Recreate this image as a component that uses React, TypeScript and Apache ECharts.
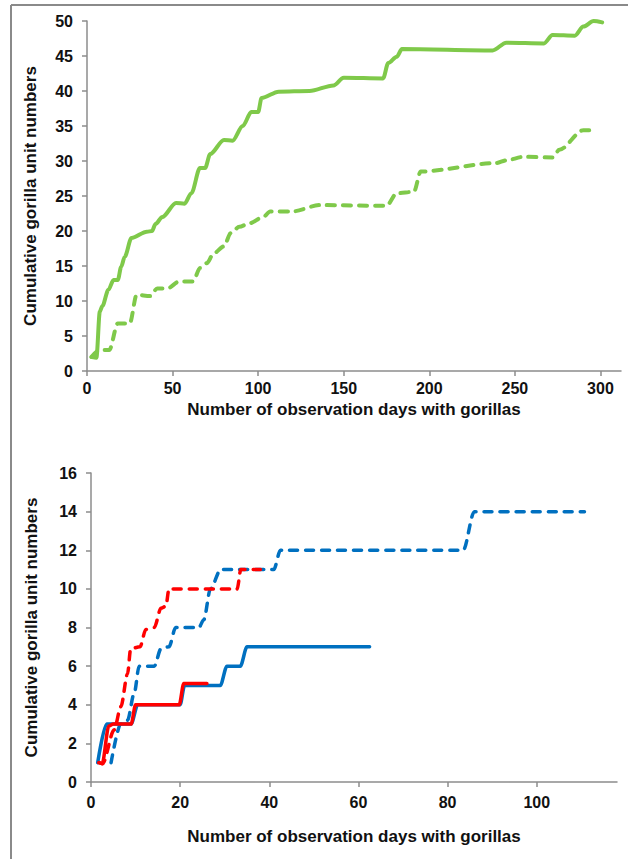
import React, { useEffect, useRef } from "react";
import * as echarts from "echarts";

// Top chart: cumulative gorilla unit numbers vs observation days
const topSolid: [number, number][] = [
  [3, 2], [5.5, 1.9], [7.5, 8.5], [9, 9.3], [12.5, 11.6], [15.5, 13], [18, 13], [20, 14.9], [22, 16.3],
  [26, 19], [35, 19.9], [38, 20], [40, 21], [44, 22], [52, 24], [57, 23.9], [61, 25.4], [66, 29], [69, 29],
  [72, 31], [80, 33], [85, 32.9], [91, 35], [96, 37], [100, 37], [102, 39], [112, 39.9], [130, 40],
  [144, 40.8], [150, 41.9], [173, 41.8], [176, 44], [181, 44.9], [184, 46], [237, 45.8], [245, 46.9],
  [267, 46.8], [272, 48], [285, 47.9], [290, 49.2], [296, 50], [301, 49.8],
];
const topDashed: [number, number][] = [
  [2.5, 2], [7.5, 3], [13, 3], [18, 6.8], [25, 6.8], [29, 10.9], [37, 10.7], [41, 11.8], [47, 11.8],
  [54, 12.8], [62, 12.8], [66, 14.7], [70, 15.4], [74, 16.8], [80, 17.8], [84, 19.7], [89, 20.6],
  [95, 21.1], [103, 22], [107, 22.8], [120, 22.8], [136, 23.7], [175, 23.6], [181, 25.4], [191, 25.6],
  [195, 28.5], [239, 29.7], [245, 30.1], [255, 30.6], [272, 30.5], [276, 31.6], [290, 34.4], [294, 34.4],
];
const topXTicks = [0, 50, 100, 150, 200, 250, 300];

// Bottom chart
const blueSolid: [number, number][] = [
  [1.5, 1], [3.5, 3], [9, 3], [10.5, 4], [20, 4], [21, 5], [29, 5], [30.5, 6], [33.5, 6], [35, 7], [62.5, 7],
];
const redSolid: [number, number][] = [
  [1.8, 1], [2.5, 0.95], [4, 2.9], [5, 3], [9, 3], [10, 4], [19.8, 4], [20.8, 5.1], [26, 5.1],
];
const blueDashed: [number, number][] = [
  [4.5, 1], [6.7, 3], [8.2, 3.2], [9.7, 4.6], [10.8, 6], [14.2, 6], [15.7, 6.9], [17.5, 7], [19, 8],
  [24.2, 8], [25.3, 8.4], [26.8, 10], [29.1, 11], [41, 11], [42.5, 12], [83.5, 12], [86, 14], [110.7, 14],
];
const redDashed: [number, number][] = [
  [1.8, 1], [2.6, 0.95], [5.2, 2.7], [6.7, 3.9], [8.2, 5.6], [8.9, 6.9], [11, 7], [12.3, 7.9], [14.2, 8],
  [15.7, 9], [16.8, 9.1], [17.5, 10], [32.8, 10], [33.6, 11], [38, 11],
];
const bottomXTicks = [0, 20, 40, 60, 80, 100];

const xName = "Number of observation days with gorillas";
const yName = "Cumulative gorilla unit numbers";

const GREEN = "#7fc94a";
const BLUE = "#0070c0";
const RED = "#ff0000";
const AXIS = "#8c8c8c";
const FONT = "Liberation Sans";

export default function App() {
  const ref = useRef<HTMLDivElement>(null);
  useEffect(() => {
    if (!ref.current) return;
    const chart = echarts.init(ref.current, undefined, { renderer: "svg" });
    const axisLine = { show: true, lineStyle: { color: AXIS, width: 1.5 } };
    const axisTick = { show: true, length: 5, inside: false, lineStyle: { color: AXIS, width: 1.5 } };
    const label = { color: "#111", fontFamily: FONT, fontWeight: "bold" as const, fontSize: 16 };
    const nameStyle = { color: "#111", fontFamily: FONT, fontWeight: "bold" as const, fontSize: 17 };
    const line = (data: [number, number][], color: string, dashed: boolean, width: number, xi: number) => ({
      type: "line",
      xAxisIndex: xi,
      yAxisIndex: xi,
      data,
      showSymbol: false,
      smooth: 0.3,
      smoothMonotone: "x",
      lineStyle: { color, width, type: dashed ? [8, 8] : "solid", cap: "round", join: "round" },
    });
    chart.setOption({
      animation: false,
      backgroundColor: "#fff",
      grid: [
        { left: 87, top: 21, width: 534, height: 350 },
        { left: 91, top: 473, width: 526, height: 309 },
      ],
      xAxis: [
        {
          gridIndex: 0, type: "value", min: 0, max: 312,
          axisLine, axisTick: { ...axisTick, customValues: topXTicks },
          axisLabel: { ...label, margin: 9, customValues: topXTicks },
          splitLine: { show: false },
          name: xName, nameLocation: "middle", nameGap: 30, nameTextStyle: nameStyle,
        },
        {
          gridIndex: 1, type: "value", min: 0, max: 118,
          axisLine, axisTick: { ...axisTick, customValues: bottomXTicks },
          axisLabel: { ...label, margin: 12, customValues: bottomXTicks },
          splitLine: { show: false },
          name: xName, nameLocation: "middle", nameGap: 46, nameTextStyle: nameStyle,
        },
      ],
      yAxis: [
        {
          gridIndex: 0, type: "value", min: 0, max: 50, interval: 5,
          axisLine, axisTick, axisLabel: { ...label, margin: 14 },
          splitLine: { show: false },
          name: yName, nameLocation: "middle", nameGap: 48, nameTextStyle: nameStyle,
        },
        {
          gridIndex: 1, type: "value", min: 0, max: 16, interval: 2,
          axisLine, axisTick, axisLabel: { ...label, margin: 14 },
          splitLine: { show: false },
          name: yName, nameLocation: "middle", nameGap: 51, nameTextStyle: nameStyle,
        },
      ],
      series: [
        line(topDashed, GREEN, true, 4, 0),
        line(topSolid, GREEN, false, 4, 0),
        line(blueSolid, BLUE, false, 3.5, 1),
        line(blueDashed, BLUE, true, 3.5, 1),
        line(redSolid, RED, false, 3.5, 1),
        line(redDashed, RED, true, 3.5, 1),
      ],
      graphic: [
        { type: "line", shape: { x1: 11, y1: 5, x2: 628, y2: 5 }, style: { stroke: "#8a8a8a", lineWidth: 2 } },
        { type: "line", shape: { x1: 11, y1: 5, x2: 11, y2: 859 }, style: { stroke: "#8a8a8a", lineWidth: 2 } },
      ],
    });
    return () => chart.dispose();
  }, []);
  return (
    <div
      ref={ref}
      style={{ position: "fixed", left: 0, top: 0, width: 628, height: 859, background: "#fff" }}
    />
  );
}
